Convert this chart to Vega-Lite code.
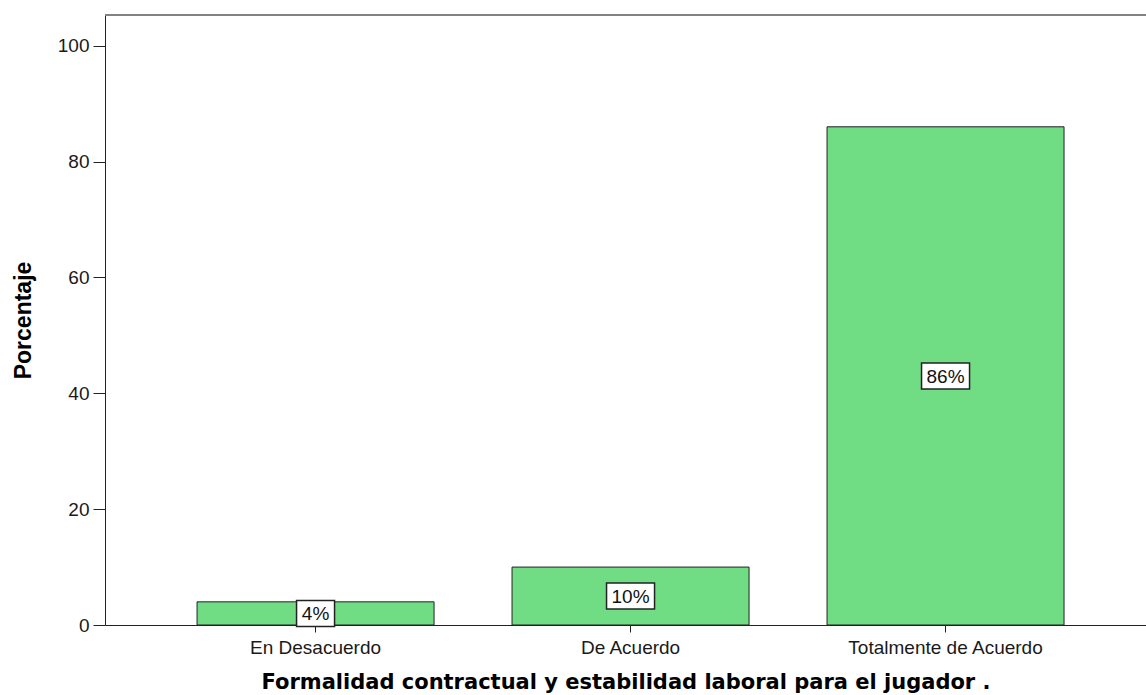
{
  "$schema": "https://vega.github.io/schema/vega-lite/v6.json",
  "autosize": "none",
  "width": 1041,
  "height": 610,
  "padding": {"left": 105, "top": 15, "right": 0, "bottom": 70},
  "background": "white",
  "config": {
    "view": {"stroke": null},
    "font": "Liberation Sans"
  },
  "data": {
    "values": [
      {"categoria": "En Desacuerdo", "porcentaje": 4, "etiqueta": "4%"},
      {"categoria": "De Acuerdo", "porcentaje": 10, "etiqueta": "10%"},
      {"categoria": "Totalmente de Acuerdo", "porcentaje": 86, "etiqueta": "86%"}
    ]
  },
  "transform": [
    {"calculate": "datum.porcentaje / 2", "as": "centro"},
    {"calculate": "length(datum.etiqueta) > 2 ? 'ancho' : 'estrecho'", "as": "caja"}
  ],
  "layer": [
    {
      "mark": {"type": "rule", "color": "#808080", "strokeWidth": 1.5},
      "encoding": {"y": {"datum": 105.3, "type": "quantitative", "title": "Porcentaje"}}
    },
    {
      "mark": {"type": "bar", "fill": "#70dc84", "stroke": "#222222", "strokeWidth": 1},
      "encoding": {
        "x": {
          "field": "categoria",
          "type": "nominal",
          "sort": null,
          "scale": {"paddingInner": 0.2476, "paddingOuter": 0.2762, "align": 0.529},
          "axis": {
            "title": "Formalidad contractual y estabilidad laboral para el jugador .",
            "labelAngle": 0,
            "labelLimit": 0,
            "labelFont": "Liberation Sans",
            "labelFontSize": 19,
            "labelColor": "#1a1a1a",
            "labelBaseline": "alphabetic",
            "labelPadding": 21,
            "tickSize": 7,
            "tickColor": "#222222",
            "domainColor": "#222222",
            "titleFont": "DejaVu Sans",
            "titleFontSize": 21,
            "titleFontWeight": "bold",
            "titleColor": "#000000",
            "titleBaseline": "alphabetic",
            "titleY": 63
          }
        },
        "y": {
          "field": "porcentaje",
          "type": "quantitative",
          "title": "Porcentaje",
          "scale": {"domain": [0, 105.3], "nice": false},
          "axis": {
            "values": [0, 20, 40, 60, 80, 100],
            "grid": false,
            "labelFont": "Liberation Sans",
            "labelFontSize": 19,
            "labelColor": "#1a1a1a",
            "tickSize": 12,
            "labelPadding": 4,
            "tickColor": "#222222",
            "domainColor": "#222222",
            "titleFont": "Liberation Sans",
            "titleFontSize": 23,
            "titleFontWeight": "bold",
            "titleColor": "#000000",
            "titleBaseline": "alphabetic",
            "titleX": -75
          }
        }
      }
    },
    {
      "mark": {"type": "point", "filled": true, "fill": "white", "stroke": "#222222", "strokeWidth": 1.5, "size": 10000, "opacity": 1},
      "encoding": {
        "x": {"field": "categoria", "type": "nominal", "sort": null, "title": "Formalidad contractual y estabilidad laboral para el jugador ."},
        "y": {"field": "centro", "type": "quantitative", "title": "Porcentaje"},
        "shape": {
          "field": "caja",
          "type": "nominal",
          "scale": {
            "domain": ["estrecho", "ancho"],
            "range": ["M-0.38,-0.26L0.38,-0.26L0.38,0.26L-0.38,0.26Z", "M-0.48,-0.26L0.48,-0.26L0.48,0.26L-0.48,0.26Z"]
          },
          "legend": null
        }
      }
    },
    {
      "mark": {"type": "text", "font": "Liberation Sans", "fontSize": 19, "color": "#111111", "baseline": "middle", "dy": 1},
      "encoding": {
        "x": {"field": "categoria", "type": "nominal", "sort": null, "title": "Formalidad contractual y estabilidad laboral para el jugador ."},
        "y": {"field": "centro", "type": "quantitative", "title": "Porcentaje"},
        "text": {"field": "etiqueta"}
      }
    }
  ]
}
